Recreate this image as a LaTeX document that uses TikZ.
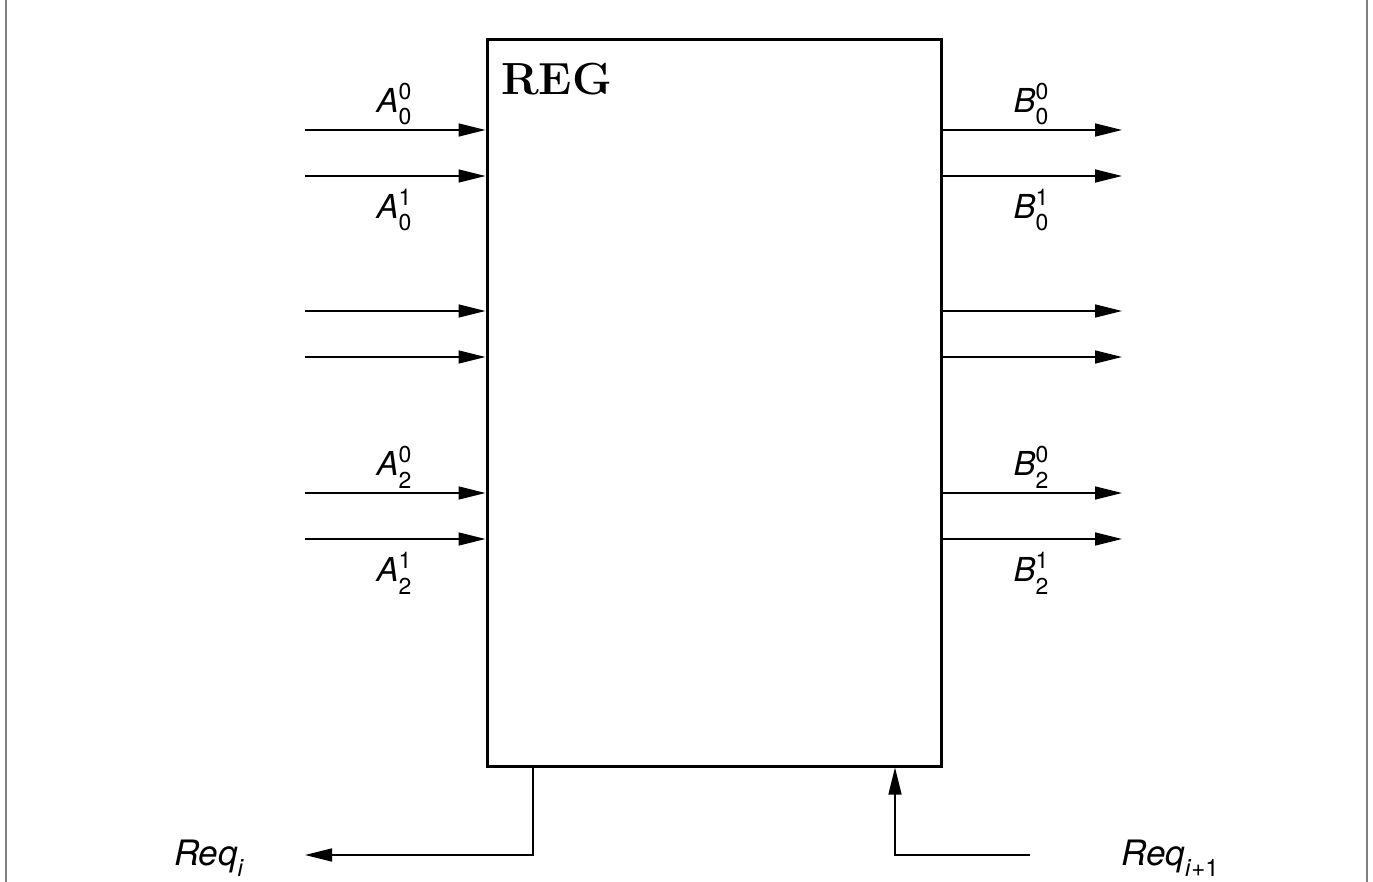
\documentclass[tikz,border=0pt]{standalone}
\usepackage{fontspec}
\newfontfamily\hv{TeX Gyre Heros}
\usetikzlibrary{arrows.meta}
\newcommand\sslab[3]{{\hv\fontsize{33}{33}\selectfont\textit{#1}\rlap{\raisebox{0.4em}{\fontsize{23}{23}\selectfont #2}}\raisebox{-0.38em}{\fontsize{23}{23}\selectfont #3}}}
\begin{document}
\begin{tikzpicture}[x=1pt,y=-1pt,
  thin wire/.style={line width=1.4pt},
  arr/.style={thin wire,-{Triangle[length=27pt,width=13pt]}},
  frame line/.style={line width=2pt,draw=gray},
  lab/.style={inner sep=0pt}]
\useasboundingbox (0,0) rectangle (1373,882);
\draw[frame line] (6,0) -- (6,882);
\draw[frame line] (1367,0) -- (1367,882);
\node[draw,line width=3pt,minimum width=454pt,minimum height=726pt,inner sep=0pt] (reg) at (714,403) {};
\node[lab,anchor=west,font=\fontsize{45}{45}\bfseries] (title) at (501,79) {REG};
\foreach \n/\y in {1/130,2/176,3/311,4/357,5/493,6/539}{
  \coordinate (in\n) at (305,\y);
  \coordinate (out\n) at (1122,\y);
  \draw[arr] (in\n) -- (reg.west |- in\n);
  \draw[arr] (reg.east |- out\n) -- (out\n);
}
\node[lab] (a00) at (394,104) {\sslab{A}{0}{0}};
\node[lab] (a01) at (394,210) {\sslab{A}{1}{0}};
\node[lab] (a20) at (394,467) {\sslab{A}{0}{2}};
\node[lab] (a21) at (394,573) {\sslab{A}{1}{2}};
\node[lab] (b00) at (1031,104) {\sslab{B}{0}{0}};
\node[lab] (b01) at (1031,210) {\sslab{B}{1}{0}};
\node[lab] (b20) at (1031,467) {\sslab{B}{0}{2}};
\node[lab] (b21) at (1031,573) {\sslab{B}{1}{2}};
\coordinate (reqout) at (305,855);
\coordinate (reqin) at (1030,855);
\draw[arr] (reg.south -| 533,0) |- (reqout);
\draw[arr] (reqin) -| (reg.south -| 895,0);
\node[lab] (reqi) at (209,858) {{\hv\fontsize{35}{35}\selectfont\textit{Req}\raisebox{-0.3em}{\fontsize{24}{24}\selectfont\textit{i}}}};
\node[lab] (reqi1) at (1170,858) {{\hv\fontsize{35}{35}\selectfont\textit{Req}\raisebox{-0.3em}{\fontsize{24}{24}\selectfont\textit{i}+1}}};
\end{tikzpicture}
\end{document}
